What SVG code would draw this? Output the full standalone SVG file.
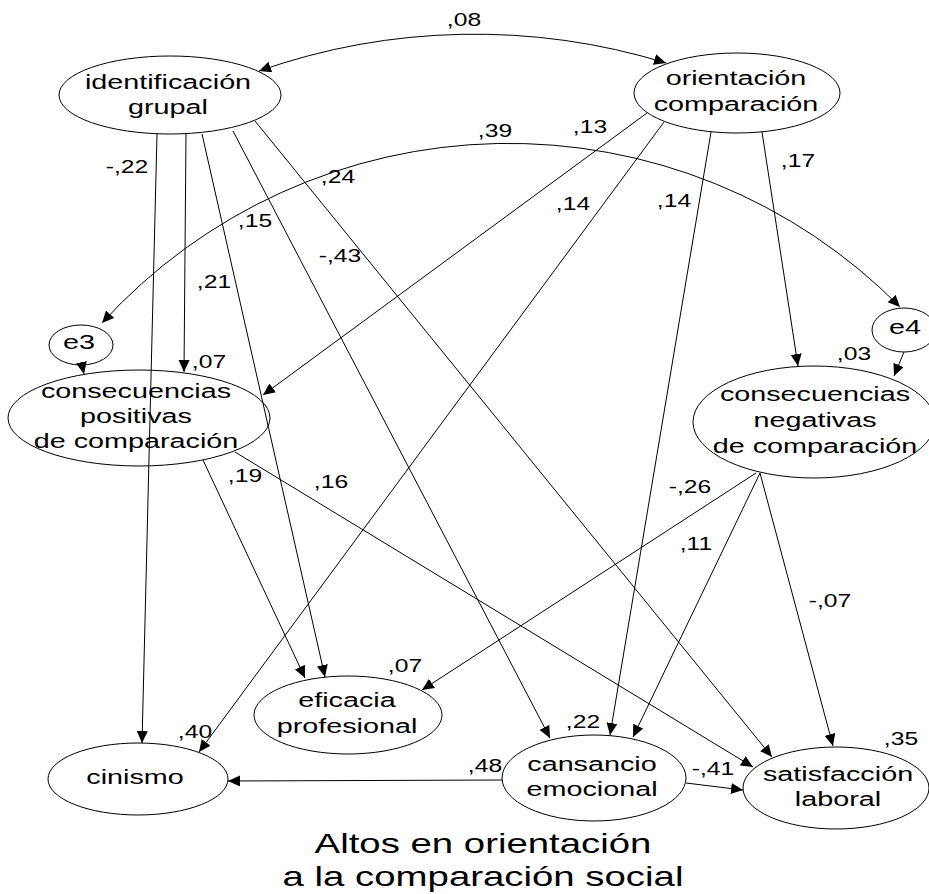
<svg xmlns="http://www.w3.org/2000/svg" width="929" height="894" viewBox="0 0 929 894">
<style>
.n ellipse{fill:#fff;stroke:#000;stroke-width:1}
text{font-family:"Liberation Sans",Arial,sans-serif;text-anchor:middle;fill:#000}
.t{font-size:21px}
.l{font-size:18px}
.ti{font-size:28px}
.c line,.c path{stroke:#000;stroke-width:1;fill:none;marker-end:url(#ah)}
.c path{marker-start:url(#ah)}
</style>
<defs>
<marker id="ah" markerUnits="userSpaceOnUse" markerWidth="13" markerHeight="12" refX="12" refY="5.5" orient="auto-start-reverse">
<path d="M0,0 L12,5.5 L0,11 z" fill="#000" stroke="none"/>
</marker>
</defs>
<rect width="929" height="894" fill="#fff"/>
<g id="identificacion" class="n"><ellipse cx="170" cy="95" rx="111" ry="39"/><text class="t" transform="translate(168,89) scale(1.37,1)"><tspan x="0">identificación</tspan><tspan x="0" dy="25">grupal</tspan></text></g>
<g id="orientacion" class="n"><ellipse cx="737" cy="93" rx="103" ry="40"/><text class="t" transform="translate(736,85) scale(1.37,1)"><tspan x="0">orientación</tspan><tspan x="0" dy="26">comparación</tspan></text></g>
<g id="e3" class="n"><ellipse cx="81" cy="345" rx="32" ry="20"/><text class="t" transform="translate(79,349) scale(1.37,1)">e3</text></g>
<g id="e4" class="n"><ellipse cx="904" cy="330" rx="32" ry="22"/><text class="t" transform="translate(905,334) scale(1.37,1)">e4</text></g>
<g id="cpos" class="n"><ellipse cx="139" cy="418" rx="131" ry="48"/><text class="t" transform="translate(136,398) scale(1.37,1)"><tspan x="0">consecuencias</tspan><tspan x="0" dy="25">positivas</tspan><tspan x="0" dy="25">de comparación</tspan></text></g>
<g id="cneg" class="n"><ellipse cx="814" cy="422" rx="121" ry="56"/><text class="t" transform="translate(815,401) scale(1.37,1)"><tspan x="0">consecuencias</tspan><tspan x="0" dy="26">negativas</tspan><tspan x="0" dy="26">de comparación</tspan></text></g>
<g id="eficacia" class="n"><ellipse cx="348" cy="715" rx="94" ry="39"/><text class="t" transform="translate(347,707) scale(1.37,1)"><tspan x="0">eficacia</tspan><tspan x="0" dy="26">profesional</tspan></text></g>
<g id="cinismo" class="n"><ellipse cx="138" cy="779" rx="90" ry="36"/><text class="t" transform="translate(135,784) scale(1.37,1)">cinismo</text></g>
<g id="cansancio" class="n"><ellipse cx="594" cy="778" rx="92" ry="43"/><text class="t" transform="translate(592,771) scale(1.37,1)"><tspan x="0">cansancio</tspan><tspan x="0" dy="25">emocional</tspan></text></g>
<g id="satisfaccion" class="n"><ellipse cx="836" cy="788" rx="93" ry="41"/><text class="t" transform="translate(838,781) scale(1.37,1)"><tspan x="0">satisfacción</tspan><tspan x="0" dy="25">laboral</tspan></text></g>
<g id="connectors" class="c">
<path d="M259,71 A650,650 0 0 1 666,63"/>
<path d="M102,323 A550,550 0 0 1 900,307"/>
<line x1="157" y1="134" x2="142" y2="743"/>
<line x1="186" y1="134" x2="184" y2="372"/>
<line x1="202" y1="134" x2="325" y2="677"/>
<line x1="233" y1="131" x2="550" y2="738"/>
<line x1="255" y1="121" x2="772" y2="757"/>
<line x1="647" y1="113" x2="263" y2="395"/>
<line x1="664" y1="122" x2="199" y2="752"/>
<line x1="711" y1="132" x2="610" y2="735"/>
<line x1="762" y1="132" x2="798" y2="366"/>
<line x1="82" y1="365" x2="84" y2="374"/>
<line x1="904" y1="352" x2="894" y2="376"/>
<line x1="203" y1="460" x2="305" y2="678"/>
<line x1="235" y1="452" x2="753" y2="767"/>
<line x1="756" y1="473" x2="422" y2="690"/>
<line x1="760" y1="473" x2="633" y2="737"/>
<line x1="760" y1="473" x2="833" y2="746"/>
<line x1="502" y1="780" x2="228" y2="781"/>
<line x1="686" y1="783" x2="743" y2="790"/>
</g>
<g id="labels" class="l">
<text class="l" transform="translate(464,26) scale(1.37,1)">,08</text>
<text class="l" transform="translate(495,137) scale(1.37,1)">,39</text>
<text class="l" transform="translate(590,133) scale(1.37,1)">,13</text>
<text class="l" transform="translate(338,183) scale(1.37,1)">,24</text>
<text class="l" transform="translate(127,173) scale(1.37,1)">-,22</text>
<text class="l" transform="translate(255,227) scale(1.37,1)">,15</text>
<text class="l" transform="translate(573,210) scale(1.37,1)">,14</text>
<text class="l" transform="translate(674,207) scale(1.37,1)">,14</text>
<text class="l" transform="translate(798,167) scale(1.37,1)">,17</text>
<text class="l" transform="translate(214,288) scale(1.37,1)">,21</text>
<text class="l" transform="translate(340,262) scale(1.37,1)">-,43</text>
<text class="l" transform="translate(209,368) scale(1.37,1)">,07</text>
<text class="l" transform="translate(854,360) scale(1.37,1)">,03</text>
<text class="l" transform="translate(245,482) scale(1.37,1)">,19</text>
<text class="l" transform="translate(331,488) scale(1.37,1)">,16</text>
<text class="l" transform="translate(690,493) scale(1.37,1)">-,26</text>
<text class="l" transform="translate(696,550) scale(1.37,1)">,11</text>
<text class="l" transform="translate(830,607) scale(1.37,1)">-,07</text>
<text class="l" transform="translate(405,672) scale(1.37,1)">,07</text>
<text class="l" transform="translate(195,738) scale(1.37,1)">,40</text>
<text class="l" transform="translate(583,728) scale(1.37,1)">,22</text>
<text class="l" transform="translate(901,745) scale(1.37,1)">,35</text>
<text class="l" transform="translate(485,772) scale(1.37,1)">,48</text>
<text class="l" transform="translate(713,775) scale(1.37,1)">-,41</text>
</g>
<g id="title">
<text class="ti" transform="translate(483,853) scale(1.37,1)">Altos en orientación</text>
<text class="ti" transform="translate(483,886) scale(1.37,1)">a la comparación social</text>
</g>
</svg>
